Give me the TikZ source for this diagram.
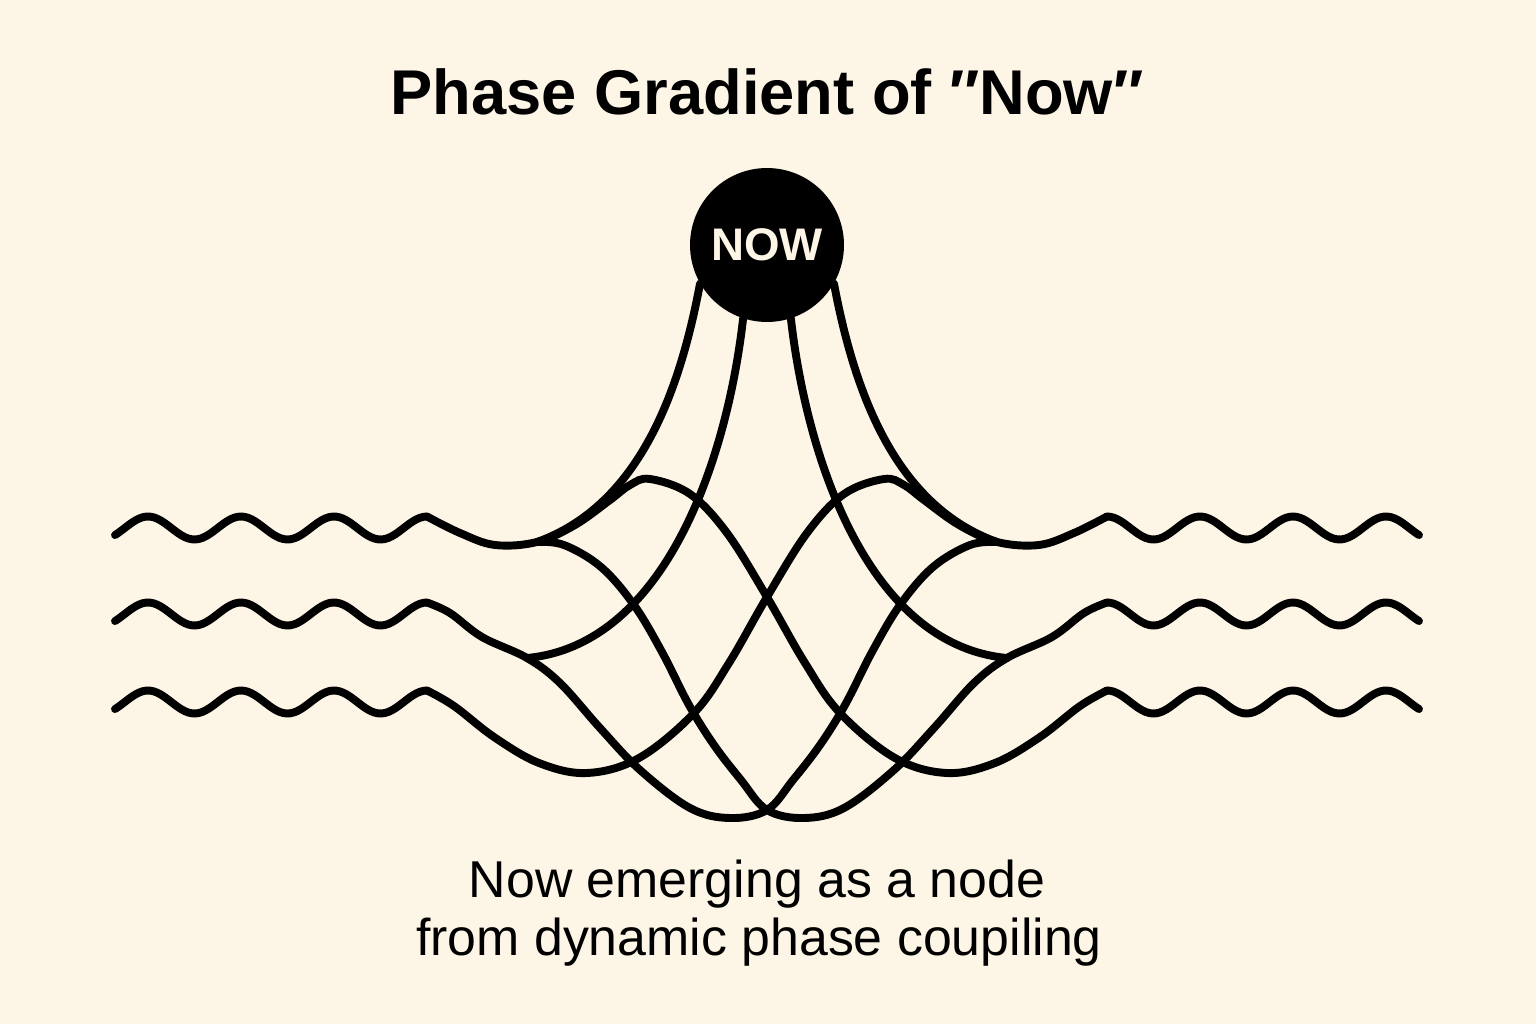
\documentclass[tikz,border=0pt]{standalone}
\usepackage{fontspec}
\setmainfont{Liberation Sans}
\usepackage{tikz}

\definecolor{paper}{RGB}{253,245,230}

\begin{document}
\begin{tikzpicture}[x=0.02cm, y=-0.02cm]
	\tikzset{strand/.style={line width=4.5pt, line cap=round, line join=round}}
	\tikzset{bend it/.style={smooth, tension=0.6}}
	\tikzset{nowdot/.style={shape=circle, fill=black, text=paper, minimum size=3.08cm, inner sep=0pt, font=\bfseries\fontsize{26}{30}\selectfont}}
	\tikzset{heading/.style={anchor=base, font=\bfseries\fontsize{36}{40}\selectfont}}
	\tikzset{caption/.style={anchor=base, font=\fontsize{29.5}{33}\selectfont}}
	%background
	\fill[paper] (0,0) rectangle (1536,1024);
	\useasboundingbox (0,0) rectangle (1536,1024);
	%texts
	\node[heading] (head) at (767,115) {Phase Gradient of ″Now″};
	\node[caption] (capa) at (757,897) {Now emerging as a node};
	\node[caption] (capb) at (759,955) {from dynamic phase coupiling};
	%now node
	\node[nowdot] (now) at (767,245) {NOW};
	%junctions and last peaks
	\coordinate (tl) at (537,542);
	\coordinate (tr) at (997,542);
	\coordinate (ml) at (527,658);
	\coordinate (mr) at (1007,658);
	\coordinate (ptl) at (427,516.5);
	\coordinate (pml) at (427,602.5);
	\coordinate (pbl) at (427,690.5);
	\coordinate (ptr) at (1107,516.5);
	\coordinate (pmr) at (1107,602.5);
	\coordinate (pbr) at (1107,690.5);
	%waves
	\foreach \yc in {528, 614, 702} {
		\draw[strand] plot[domain=115:427, samples=90] (\x, {\yc-11.5*cos((\x-148)/93*360)});
		\draw[strand] plot[domain=1107:1419, samples=90] (\x, {\yc-11.5*cos((\x-1107)/93*360)});
	}
	%crossing strands
	\draw[strand] plot[bend it] coordinates {(ptl) (460,533) (495,545) (tl) (575,525) (610,500) (630,485) (650,479) (690,494) (727,533) (767,597) (805,663) (840,713) (895,758) (947,773) (995,763) (1040,737) (1080,706) (pbr)};
	\draw[strand] plot[bend it] coordinates {(pbl) (454,706) (494,737) (539,763) (587,773) (639,758) (694,713) (729,663) (767,597) (807,533) (844,494) (884,479) (904,485) (924,500) (959,525) (tr) (1039,545) (1074,533) (ptr)};
	\draw[strand] plot[bend it] coordinates {(pml) (450,613) (482,637) (ml) (560,683) (600,728) (640,770) (690,808) (730,818) (767,810) (793,780) (820,745) (845,705) (872,652) (900,605) (933,567) (970,545) (tr)};
	\draw[strand] plot[bend it] coordinates {(tl) (564,545) (601,567) (634,605) (662,652) (689,705) (714,745) (741,780) (767,810) (804,818) (844,808) (894,770) (934,728) (974,683) (mr) (1052,637) (1084,613) (pmr)};
	%lines into the node
	\draw[strand] (now.210) .. controls (680,390) and (640,505) .. (tl);
	\draw[strand] (now.330) .. controls (854,390) and (894,505) .. (tr);
	\draw[strand] (now.252) .. controls (727,460) and (665,645) .. (ml);
	\draw[strand] (now.288) .. controls (807,460) and (869,645) .. (mr);
\end{tikzpicture}
\end{document}
